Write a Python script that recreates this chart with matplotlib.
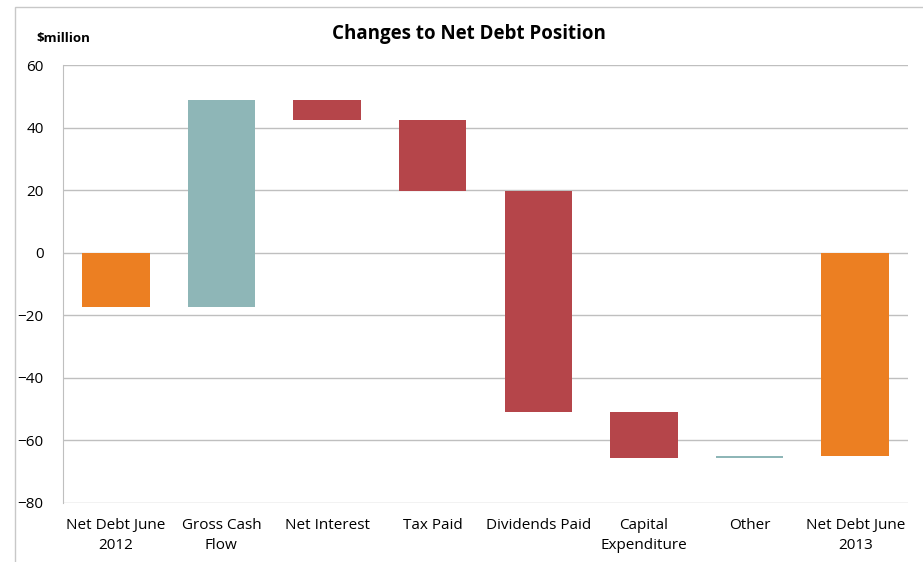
import matplotlib.pyplot as plt
from matplotlib.patches import Rectangle

plt.rcParams['font.family'] = ['Open Sans', 'DejaVu Sans']

# data
categories = ['Net Debt June\n2012', 'Gross Cash\nFlow', 'Net Interest', 'Tax Paid',
              'Dividends Paid', 'Capital\nExpenditure', 'Other', 'Net Debt June\n2013']
bottoms = [0, -17.4, 49.0, 42.5, 19.8, -50.8, -65.5, 0]
tops = [-17.4, 49.0, 42.5, 19.8, -50.8, -65.5, -64.9, -64.9]
kinds = ['total', 'up', 'down', 'down', 'down', 'down', 'up', 'total']
yticks = [-80, -60, -40, -20, 0, 20, 40, 60]

colors = {'total': '#EC7F22', 'up': '#8EB6B7', 'down': '#B5454A'}

fig = plt.figure(figsize=(9.23, 5.62), dpi=100)
ax = fig.add_axes([63 / 923, 0.105, (908 - 63) / 923, 0.779])

x = range(len(categories))
heights = [t - b for t, b in zip(tops, bottoms)]
ax.bar(x, heights, bottom=bottoms, width=0.64,
       color=[colors[k] for k in kinds], zorder=3)

ax.set_xlim(-0.5, len(categories) - 0.5)
ax.set_ylim(-80, 60)
ax.set_yticks(yticks)
ax.set_xticks(list(x))
ax.set_xticklabels(categories, fontsize=11, linespacing=1.45)
ax.tick_params(axis='y', labelsize=11, length=0, pad=14)
ax.tick_params(axis='x', length=0, pad=11)
ax.grid(axis='y', color='#BFBFBF', linewidth=1, zorder=0)
for s in ['top', 'right', 'bottom']:
    ax.spines[s].set_visible(False)
ax.spines['left'].set_color('#BFBFBF')

fig.text(0.508, 0.94, 'Changes to Net Debt Position', ha='center', va='center',
         fontsize=13.5, fontweight='bold')
fig.text(0.039, 0.932, '$million', ha='left', va='center', fontsize=9.5, fontweight='bold')

# outer chart frame
fig.patches.append(Rectangle((15 / 923, -0.1), 1.1, 1 - 7 / 562 + 0.1,
                             transform=fig.transFigure, fill=False,
                             edgecolor='#C8C8C8', linewidth=1))

fig.savefig('out.png', dpi=100)
